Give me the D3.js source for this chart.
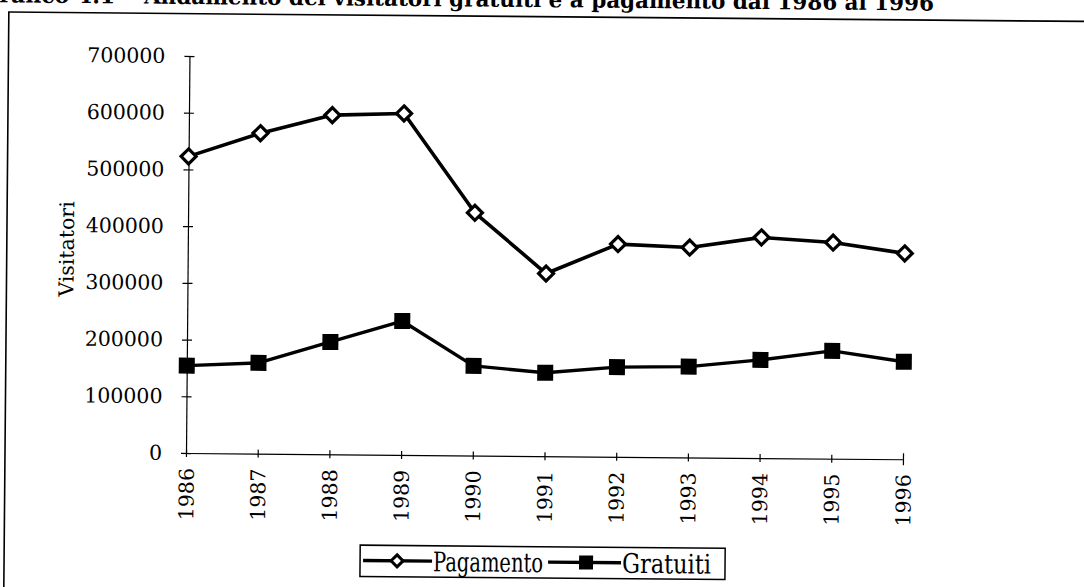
<!DOCTYPE html>
<html>
<head>
<meta charset="utf-8">
<script src="https://cdn.jsdelivr.net/npm/d3@7"></script>
<style>
  html, body { margin: 0; padding: 0; background: #fff; }
  svg { display: block; }
  text { font-family: "DejaVu Serif", "Liberation Serif", serif; fill: #000; }
</style>
</head>
<body>
<svg id="chart" width="1084" height="587"></svg>
<script>
// Visitatori annui, 1986-1996
const years = [1986, 1987, 1988, 1989, 1990, 1991, 1992, 1993, 1994, 1995, 1996];
const pagamento = [523000, 565000, 598000, 602000, 428000, 322000, 375000, 370000, 389000, 381000, 363000];
const gratuiti = [154000, 160000, 198000, 236000, 158000, 147000, 158000, 160000, 173000, 190000, 172000];
const yTicks = [0, 100000, 200000, 300000, 400000, 500000, 600000, 700000];
const seriesNames = ["Pagamento", "Gratuiti"];
const titlePrefix = "Grafico 4.1 -";
const titleText = "Andamento dei visitatori gratuiti e a pagamento dal 1986 al 1996";
const yTitle = "Visitatori";

const svg = d3.select("#chart");
const origin = { x: 186, y: 453 };

// the whole sheet sits slightly tilted on the page
const page = svg.append("g").attr("transform", `rotate(0.5, ${origin.x}, ${origin.y})`);

// frame around the figure (open to the right and bottom of the page)
page.append("rect")
  .attr("x", 5).attr("y", 13.6)
  .attr("width", 1300).attr("height", 800)
  .attr("fill", "none").attr("stroke", "#000").attr("stroke-width", 1.6);

// heading, only its lower part falls on the page
const title = page.append("text").attr("y", 4)
  .style("font-weight", "bold").style("font-size", "22px");
title.append("tspan").attr("x", 128).attr("text-anchor", "end").text(titlePrefix);
page.append("text").attr("x", 140).attr("y", 4)
  .style("font-weight", "bold").style("font-size", "22px")
  .attr("textLength", 790).attr("lengthAdjust", "spacingAndGlyphs")
  .text(titleText);

const x = d3.scalePoint().domain(years).range([origin.x, 903]);
const y = d3.scaleLinear().domain([0, 700000]).range([origin.y, 56]);

// y axis
const yAxis = page.append("g")
  .attr("transform", `translate(${origin.x},0)`)
  .call(d3.axisLeft(y).tickValues(yTicks).tickFormat(d3.format("d")).tickSizeOuter(0).tickPadding(18));
yAxis.select(".domain").attr("stroke", "#000").attr("stroke-width", 1.2);
yAxis.selectAll(".tick line").attr("x1", -5).attr("x2", 5).attr("stroke", "#000").attr("stroke-width", 1.2);
yAxis.selectAll(".tick text").style("font-size", "20.5px").style("font-family", "DejaVu Serif");

// x axis
const xAxis = page.append("g")
  .attr("transform", `translate(0,${origin.y})`)
  .call(d3.axisBottom(x).tickSizeOuter(0));
xAxis.select(".domain").attr("stroke", "#000").attr("stroke-width", 1.2);
xAxis.selectAll(".tick line")
  .attr("y1", (d, i) => i === years.length - 1 ? -6 : -4)
  .attr("y2", (d, i) => i === years.length - 1 ? 6 : 4)
  .attr("stroke", "#000").attr("stroke-width", 1.2);
xAxis.selectAll(".tick text")
  .attr("transform", "rotate(-90)")
  .attr("x", -15).attr("y", 0).attr("dy", "0.36em")
  .attr("text-anchor", "end")
  .style("font-size", "20.5px").style("font-family", "DejaVu Serif");

// y axis title
page.append("text")
  .attr("transform", "translate(72,250) rotate(-90)")
  .attr("text-anchor", "middle")
  .style("font-size", "20.5px")
  .text(yTitle);

// series
const line = d3.line().x((d, i) => x(years[i])).y(d => y(d));

page.append("path").datum(pagamento)
  .attr("d", line).attr("fill", "none")
  .attr("stroke", "#000").attr("stroke-width", 3.6).attr("stroke-linejoin", "round");
page.append("path").datum(gratuiti)
  .attr("d", line).attr("fill", "none")
  .attr("stroke", "#000").attr("stroke-width", 3.4).attr("stroke-linejoin", "round");

const diamond = r => `M0,${-r}L${r},0L0,${r}L${-r},0Z`;

page.append("g").selectAll("path").data(pagamento).join("path")
  .attr("transform", (d, i) => `translate(${x(years[i])},${y(d)})`)
  .attr("d", diamond(7.5))
  .attr("fill", "#fff").attr("stroke", "#000").attr("stroke-width", 3.2)
  .attr("stroke-linejoin", "miter");

page.append("g").selectAll("rect").data(gratuiti).join("rect")
  .attr("x", (d, i) => x(years[i]) - 8).attr("y", d => y(d) - 8)
  .attr("width", 16).attr("height", 16)
  .attr("fill", "#000");

// legend
const legend = page.append("g");
legend.append("rect")
  .attr("x", 361).attr("y", 543.6).attr("width", 365).attr("height", 31.3)
  .attr("fill", "#fff").attr("stroke", "#000").attr("stroke-width", 1.5);

const legY = 559;
legend.append("line").attr("x1", 364).attr("x2", 433).attr("y1", legY).attr("y2", legY)
  .attr("stroke", "#000").attr("stroke-width", 3.4);
legend.append("path").attr("transform", `translate(398,${legY})`).attr("d", diamond(6))
  .attr("fill", "#fff").attr("stroke", "#000").attr("stroke-width", 3);
legend.append("text").attr("x", 434).attr("y", legY + 10)
  .style("font-size", "27px")
  .attr("textLength", 110).attr("lengthAdjust", "spacingAndGlyphs")
  .text(seriesNames[0]);

legend.append("line").attr("x1", 549).attr("x2", 622).attr("y1", legY).attr("y2", legY)
  .attr("stroke", "#000").attr("stroke-width", 3.4);
legend.append("rect").attr("x", 580).attr("y", legY - 7).attr("width", 14).attr("height", 14)
  .attr("fill", "#000");
legend.append("text").attr("x", 623).attr("y", legY + 10)
  .style("font-size", "27px")
  .attr("textLength", 89).attr("lengthAdjust", "spacingAndGlyphs")
  .text(seriesNames[1]);
</script>
</body>
</html>
